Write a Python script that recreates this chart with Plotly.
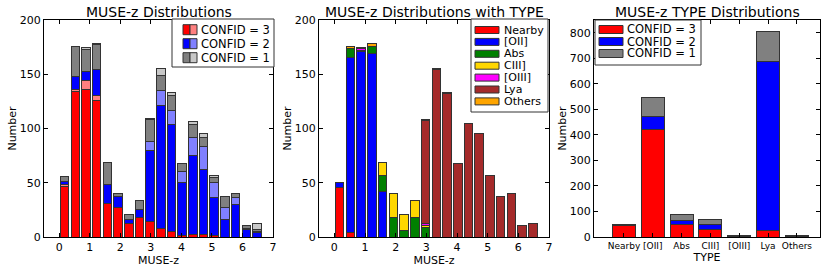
import plotly.graph_objects as go

# ---------------- data ----------------
z_centers = [0.175 + 0.35 * k for k in range(20)]

# Panel 1: MUSE-z by CONFID (dark / light halves)
c3_dark  = [47, 134, 136, 126, 31, 27, 12, 18, 14, 8, 5, 1, 2, 2, 1, 0, 0, 0, 0, 0]
c3_light = [1, 2, 8, 4, 0, 0, 0, 0, 0, 0, 0, 0, 0, 0, 0, 0, 0, 0, 0, 0]
c2_dark  = [3, 12, 9, 24, 17, 10, 4, 7, 66, 113, 99, 49, 73, 60, 35, 16, 30, 7, 4, 0]
c2_light = [0, 0, 0, 0, 0, 0, 0, 0, 8, 14, 13, 10, 17, 21, 14, 11, 6, 1, 1, 0]
c1_dark  = [5, 28, 20, 23, 21, 3, 5, 9, 20, 14, 13, 8, 12, 9, 5, 10, 4, 3, 2, 0]
c1_light = [0, 0, 2, 1, 0, 0, 0, 0, 1, 6, 3, 0, 2, 3, 2, 0, 0, 0, 5, 0]
confid_labels = ["CONFID = 3", "CONFID = 2", "CONFID = 1"]

# Panel 2: MUSE-z by TYPE
t_nearby = [46, 4, 0, 0, 0, 0, 0, 0, 0, 0, 0, 0, 0, 0, 0, 0, 0, 0, 0, 0]
t_oii    = [4, 161, 171, 169, 42, 0, 0, 0, 0, 0, 0, 0, 0, 0, 0, 0, 0, 0, 0, 0]
t_abs    = [0, 9, 1, 7, 15, 18, 6, 18, 9, 0, 0, 0, 0, 0, 0, 0, 0, 0, 0, 0]
t_ciii   = [0, 0, 0, 0, 12, 22, 15, 16, 2, 0, 0, 0, 0, 0, 0, 0, 0, 0, 0, 0]
t_oiii   = [0, 0, 2, 0, 0, 0, 0, 0, 1, 0, 0, 0, 0, 0, 0, 0, 0, 0, 0, 0]
t_lya    = [0, 0, 0, 0, 0, 0, 0, 0, 95, 154, 132, 68, 105, 95, 57, 37, 40, 11, 12, 0]
t_others = [0, 2, 1, 2, 0, 0, 0, 0, 1, 1, 1, 0, 0, 0, 0, 0, 0, 0, 0, 0]

# Panel 3: TYPE by CONFID
types = ["Nearby", "[OII]", "Abs", "CIII]", "[OIII]", "Lya", "Others"]
type_c3 = [45, 420, 48, 31, 2, 26, 1]
type_c2 = [2, 51, 16, 19, 1, 663, 2]
type_c1 = [3, 75, 23, 18, 1, 116, 2]

# ---------------- figure ----------------
FONT = "DejaVu Sans"
EDGE = dict(color="#333333", width=1)
W, H = 830, 272
fig = go.Figure()

def add_bar(x, y, name, color, xa, ya, width):
    fig.add_trace(go.Bar(x=x, y=y, name=name, marker=dict(color=color, line=EDGE),
                         width=width, xaxis=xa, yaxis=ya, showlegend=False))

# panel 1
p1_colors = [("#ff0000", "#ff8080"), ("#0000ff", "#8080ff"), ("#808080", "#c8c8c8")]
for (dark, light), (cd, cl), name in zip([(c3_dark, c3_light), (c2_dark, c2_light), (c1_dark, c1_light)],
                                         p1_colors, confid_labels):
    add_bar(z_centers, dark, name, cd, "x", "y", 0.28)
    add_bar(z_centers, light, name + " (light)", cl, "x", "y", 0.28)

# panel 2
p2 = [(t_nearby, "Nearby", "#ff0000"), (t_oii, "[OII]", "#0000ff"),
      (t_abs, "Abs", "#008000"), (t_ciii, "CIII]", "#ffd700"),
      (t_oiii, "[OIII]", "#ff00ff"), (t_lya, "Lya", "#a52a2a"),
      (t_others, "Others", "#ffa500")]
for vals, name, col in p2:
    add_bar(z_centers, vals, name, col, "x2", "y2", 0.28)

# panel 3
p3 = [(type_c3, confid_labels[0], "#ff0000"), (type_c2, confid_labels[1], "#0000ff"),
      (type_c1, confid_labels[2], "#808080")]
for vals, name, col in p3:
    add_bar(types, vals, name, col, "x3", "y3", 0.8)

def px_x(a, b):
    return [a / W, b / W]
ydom = [1 - 237 / H, 1 - 20 / H]

def axis(**kw):
    d = dict(showline=True, linecolor="black", linewidth=1, mirror="ticks",
             ticks="inside", ticklen=4, tickcolor="black", showgrid=False,
             zeroline=False, automargin=False,
             tickfont=dict(family=FONT, size=11, color="black"),
             title_font=dict(family=FONT, size=11, color="black"))
    d.update(kw)
    return d

lay = dict(
    width=W, height=H, margin=dict(l=0, r=0, t=0, b=0),
    paper_bgcolor="white", plot_bgcolor="white", barmode="stack", showlegend=False,
    font=dict(family=FONT, size=11, color="black"),
    xaxis=axis(domain=px_x(44, 273), range=[-0.5, 7], tickvals=list(range(8)),
               title=dict(text="MUSE-z", standoff=2), anchor="y"),
    yaxis=axis(domain=ydom, range=[0, 200], tickvals=[0, 50, 100, 150, 200],
               title=dict(text="Number", standoff=0), anchor="x"),
    xaxis2=axis(domain=px_x(319, 549), range=[-0.5, 7], tickvals=list(range(8)),
                title=dict(text="MUSE-z", standoff=2), anchor="y2"),
    yaxis2=axis(domain=ydom, range=[0, 200], tickvals=[0, 50, 100, 150, 200],
                title=dict(text="Number", standoff=0), anchor="x2"),
    xaxis3=axis(domain=px_x(594, 820), range=[-1.04, 6.8], type="category",
                tickangle=0, title=dict(text="TYPE", standoff=2), anchor="y3",
                tickfont=dict(family=FONT, size=9, color="black")),
    yaxis3=axis(domain=ydom, range=[0, 850], tickvals=list(range(0, 900, 100)),
                title=dict(text="Number", standoff=0), anchor="x3"),
)
fig.update_layout(**lay)

# ---------------- titles ----------------
titles = [("MUSE-z Distributions", (44 + 273) / 2),
          ("MUSE-z Distributions with TYPE", (319 + 549) / 2),
          ("MUSE-z TYPE Distributions", (594 + 820) / 2)]
for txt, cx in titles:
    fig.add_annotation(text=txt, x=cx / W, y=1 - 12 / H, xref="paper", yref="paper",
                       showarrow=False, xanchor="center", yanchor="middle",
                       font=dict(family=FONT, size=14, color="black"))

# ---------------- manual legends (matplotlib style) ----------------
def rect(x0, y0, x1, y1, fill, line="#333333", lw=1):
    fig.add_shape(type="rect", xref="paper", yref="paper",
                  x0=x0 / W, x1=x1 / W, y0=1 - y1 / H, y1=1 - y0 / H,
                  fillcolor=fill, line=dict(color=line, width=lw), layer="above")

def label(x, y, txt, size):
    fig.add_annotation(text=txt, x=x / W, y=1 - y / H, xref="paper", yref="paper",
                       showarrow=False, xanchor="left", yanchor="middle", borderpad=0,
                       font=dict(family=FONT, size=size, color="black"))

# panel 1 legend (split patches)
rect(172, 19, 274, 67, "white")
for i, ((cd, cl), name) in enumerate(zip(p1_colors, confid_labels)):
    yc = 29.7 + 14 * i
    rect(183, yc - 5, 190, yc + 5, cd)
    rect(190, yc - 5, 197, yc + 5, cl)
    label(200, yc, name, 11.5)

# panel 2 legend
rect(471, 19, 548, 112, "white")
for i, (_, name, col) in enumerate(p2):
    yc = 30 + 11.9 * i
    rect(475, yc - 3.5, 499, yc + 3.5, col)
    label(503, yc, name, 11)

# panel 3 legend
rect(595, 20, 701, 65, "white")
for i, (_, name, col) in enumerate(p3):
    yc = 29.5 + 12 * i
    rect(599, yc - 4, 623, yc + 4, col)
    label(626, yc, name, 11.5)

fig.write_html("out.html",
               config={"displayModeBar": False},
               post_script="document.body.style.margin='0px';"
                           "document.body.style.padding='0px';"
                           "document.body.style.overflow='hidden';")
